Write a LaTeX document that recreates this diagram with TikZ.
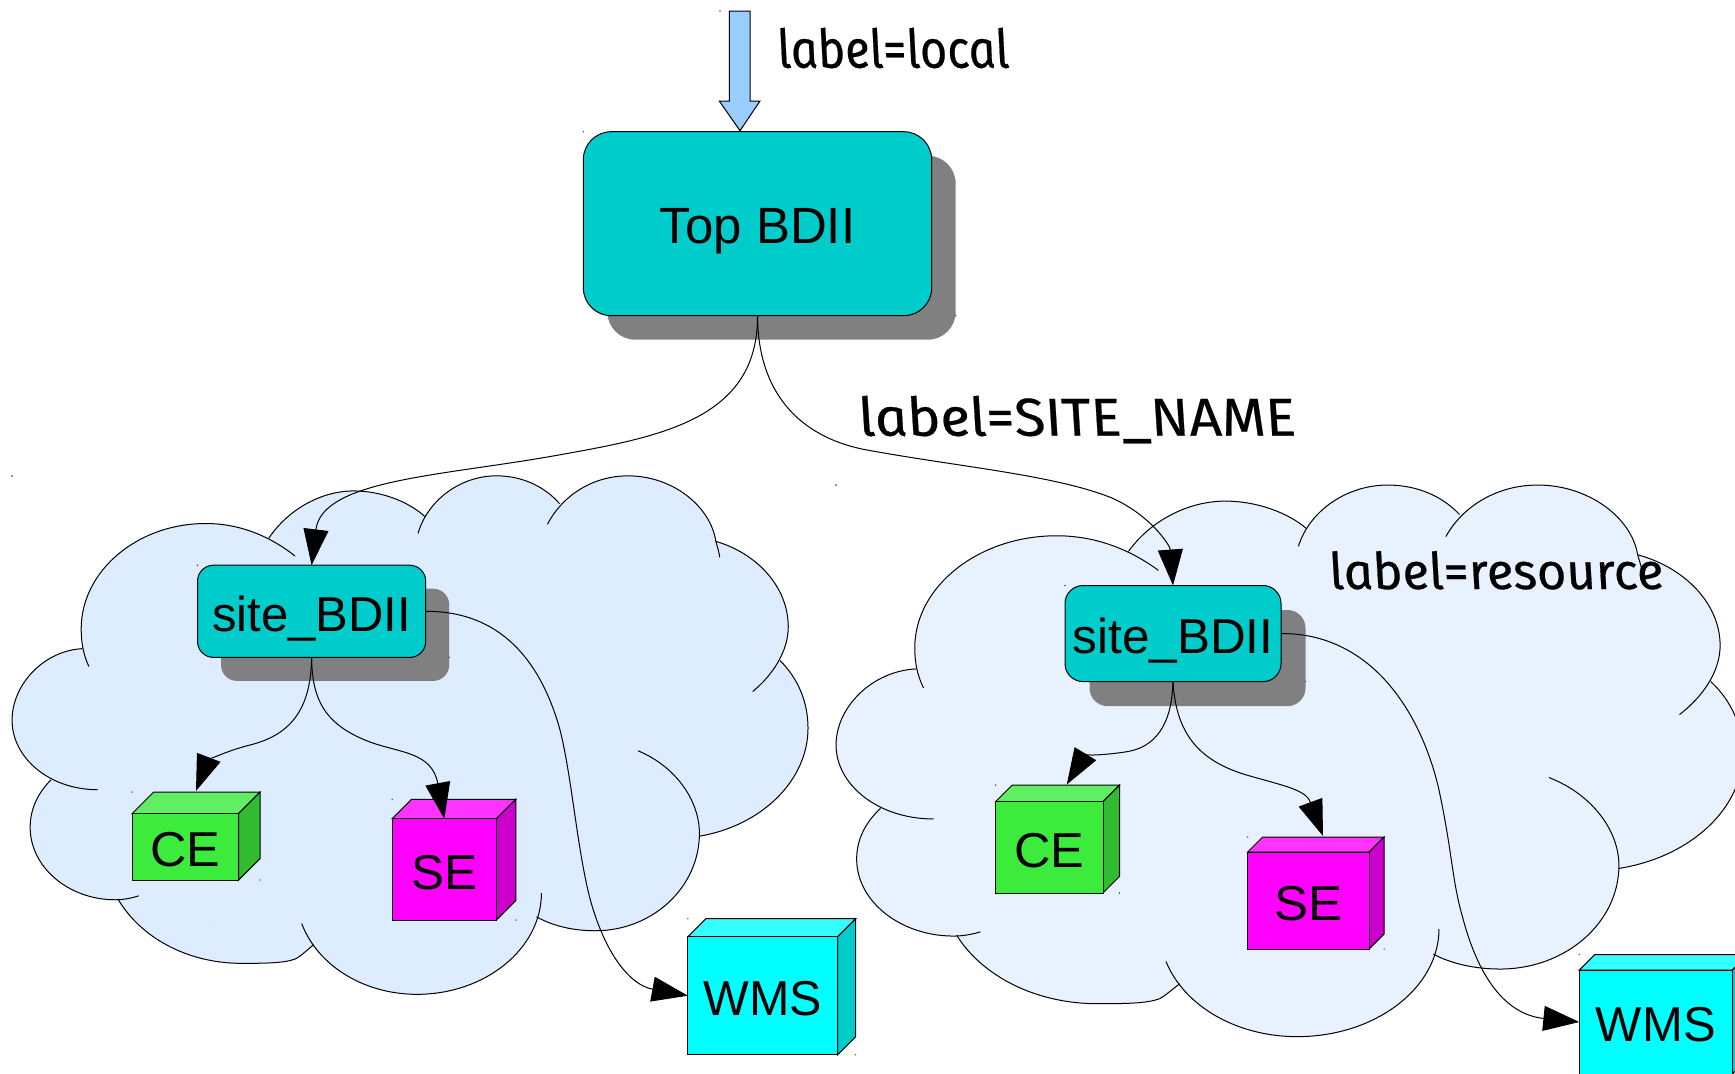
\documentclass[tikz,border=0pt]{standalone}
\usepackage{fontspec}
\usepackage{graphicx}
\setmainfont{Liberation Sans}
\newfontface\handfont{Fira Sans Italic}[FakeSlant=-0.2,FakeBold=0.4]
\usetikzlibrary{arrows.meta,calc}
\definecolor{teal1}{HTML}{00CCCC}
\definecolor{shadow1}{HTML}{808080}
\definecolor{cloudL}{HTML}{DEECFF}
\definecolor{cloudR}{HTML}{E8F2FE}
\definecolor{blockblue}{HTML}{99CCFF}
\definecolor{ceF}{HTML}{3DEB3D}\definecolor{ceT}{HTML}{62EE62}\definecolor{ceS}{HTML}{30BB30}
\definecolor{seF}{HTML}{FF00FF}\definecolor{seT}{HTML}{FF33FF}\definecolor{seS}{HTML}{CC00CC}
\definecolor{wmF}{HTML}{00FFFF}\definecolor{wmT}{HTML}{33FFFF}\definecolor{wmS}{HTML}{00CCCC}
\tikzset{
  thinline/.style={line width=0.5pt,draw=black},
  conn/.style={line width=0.5pt,draw=black,-{Triangle[length=18pt,width=12.5pt]}},
  boxface/.style={draw=black,line width=0.5pt,inner sep=0pt,outer sep=0pt,
     font=\fontsize{24.5}{28}\selectfont,text height=19.7pt,text depth=0pt,align=center},
  handlabel/.style={inner sep=0pt,outer sep=0pt,anchor=base west,font=\handfont\fontsize{24}{28}\selectfont},
  speck/.style={fill=black!70},
}
% fill or stroke every arc of the cloud with the command given
\newcommand\cloudall[1]{%
 #1{(150,500) .. controls (80,505) and (22,590) .. (22,680) .. controls (22,775) and (90,855) .. (178,855)}%
 #1{(162,545) .. controls (152,515) and (148,485) .. (148,450) .. controls (148,305) and (250,185) .. (375,185) .. controls (440,185) and (495,220) .. (538,267)}%
 #1{(490,222) .. controls (525,150) and (585,103) .. (645,103) .. controls (695,103) and (745,130) .. (775,168)}%
 #1{(762,210) .. controls (780,125) and (840,65) .. (905,65) .. controls (955,65) and (995,95) .. (1020,135)}%
 #1{(998,187) .. controls (1025,115) and (1080,65) .. (1145,65) .. controls (1225,65) and (1295,140) .. (1305,230) .. controls (1308,245) and (1311,258) .. (1312,270)}%
 #1{(1305,230) .. controls (1380,260) and (1437,345) .. (1437,445) .. controls (1437,505) and (1410,565) .. (1372,608)}%
 #1{(1422,530) .. controls (1455,575) and (1473,635) .. (1473,700) .. controls (1473,830) and (1390,945) .. (1275,972)}%
 #1{(1163,757) .. controls (1230,795) and (1275,880) .. (1275,965) .. controls (1275,1100) and (1190,1210) .. (1085,1210) .. controls (1045,1210) and (1008,1198) .. (978,1175)}%
 #1{(987,1115) .. controls (987,1255) and (885,1370) .. (760,1370) .. controls (665,1370) and (580,1300) .. (550,1192)}%
 #1{(572,1245) .. controls (560,1258) and (550,1272) .. (540,1280) .. controls (520,1292) and (480,1292) .. (440,1292) .. controls (340,1292) and (255,1225) .. (215,1130)}%
 #1{(253,1122) .. controls (240,1128) and (225,1132) .. (210,1132) .. controls (125,1132) and (55,1050) .. (55,950) .. controls (55,905) and (68,865) .. (93,830)}%
}
\newcommand\arcfill[1]{\fill #1 -- cycle;}
\newcommand\arcstroke[1]{\draw[thinline] #1;}
\newcommand\wholecloud[1]{%
 \begin{scope}[fill=#1]
  \fill (93,830)--(150,500)--(300,230)--(490,222)--(775,168)--(1020,135)--(1305,230)--(1422,530)--(1275,972)--(978,1175)--(760,1340)--(572,1245)--(215,1130)--cycle;
  \cloudall\arcfill
 \end{scope}
 \cloudall\arcstroke
}
% name, x0, y0, x1, y1, depth, colour prefix, text
\newcommand\cube[8]{%
 \filldraw[thinline,fill=#7T] (#2,#3)--({#2+#6},{#3-#6})--({#4+#6},{#3-#6})--(#4,#3)--cycle;
 \filldraw[thinline,fill=#7S] (#4,#3)--({#4+#6},{#3-#6})--({#4+#6},{#5-#6})--(#4,#5)--cycle;
 \node[boxface,fill=#7F,minimum width={(#4-#2)*0.5pt},minimum height={(#5-#3)*0.5pt}] (#1) at ({(#2+#4)/2},{(#3+#5)/2}) {#8};
 \fill[speck] (#2,{#3-#6}) circle (0.4pt);
 \fill[speck] ({#4+#6},#5) circle (0.4pt);
}
% name, x0, y0, x1, y1, shadow offset, radius (pt), text
\newcommand\roundbox[8]{%
 \fill[shadow1,rounded corners=#7pt] ({#2+#6},{#3+#6}) rectangle ({#4+#6},{#5+#6});
 \node[boxface,fill=teal1,rounded corners=#7pt,minimum width={(#4-#2)*0.5pt},minimum height={(#5-#3)*0.5pt}] (#1) at ({(#2+#4)/2},{(#3+#5)/2}) {#8};
 \fill[speck] (#2,#3) circle (0.4pt);
 \fill[speck] ({#4+#6},#5) circle (0.4pt);
}
\begin{document}
\begin{tikzpicture}[x=0.5pt,y=-0.5pt]
\useasboundingbox (0,0) rectangle (1735,1073);
\clip (0,0) rectangle (1735,1073);
\fill[white] (0,0) rectangle (1735,1073);

% clouds
\begin{scope}[shift={(0,450)},x=0.27427pt,y=-0.19865pt]
 \wholecloud{cloudL}
\end{scope}
\begin{scope}[shift={(822.3,457.55)},x=0.3124pt,y=-0.21135pt]
 \wholecloud{cloudR}
\end{scope}
\fill[speck] (12,476) circle (0.5pt);
\fill[speck] (836,485) circle (0.5pt);

% block arrow
\filldraw[thinline,fill=blockblue] (729.3,11)--(750,11)--(750,101)--(760,101)--(740,130.7)--(719.3,101)--(729.3,101)--cycle;
\fill[speck] (720,11) circle (0.4pt);

% boxes
\roundbox{top}{583.3}{131.7}{931.7}{315.7}{24}{14}{\fontsize{25.5}{30}\selectfont Top BDII}
\roundbox{siteL}{197.5}{565.2}{425.7}{657.4}{23.5}{8}{\scalebox{1.0}[1]{site\_BDII}}
\roundbox{siteR}{1065}{585.5}{1281}{681.6}{24.5}{9}{\scalebox{1.01}[1]{site\_BDII}}

\cube{ceL}{132.2}{813.5}{238.6}{880}{21.5}{ce}{\scalebox{1.03}[1]{CE}}
\cube{seL}{392.2}{818.7}{496.4}{920}{19.4}{se}{\scalebox{1.01}[1]{SE}}
\cube{wmsL}{687.9}{936.7}{837.6}{1054.7}{18}{wm}{\scalebox{0.99}[1]{WMS}}
\cube{ceR}{995.6}{801.6}{1103}{893}{16.5}{ce}{\scalebox{1.03}[1]{CE}}
\cube{seR}{1247.7}{852}{1369.1}{949}{15}{se}{\scalebox{1.04}[1]{SE}}
\cube{wmsR}{1579.3}{970}{1732.3}{1074}{15.5}{wm}{\scalebox{1.0}[1]{WMS}}

% connector ends on the top faces of the cubes
\coordinate (ceLin) at (196,791);
\coordinate (seLin) at (444.3,818.7);
\coordinate (ceRin) at (1066.8,784.5);
\coordinate (seRin) at (1323,836);

% connectors
\draw[conn] (top.south) .. controls (758,420) and (660,437) .. (553,456)
   .. controls (440,476) and (322,480) .. (siteL.north);
\draw[conn] (top.south) .. controls (758,400) and (807,439) .. (867,450)
   .. controls (960,467) and (1055,475) .. (1112,498)
   .. controls (1150,515) and (1170,545) .. (siteR.north);
\draw[conn] (siteL.south) .. controls (311,710) and (290,735) .. (250,745)
   .. controls (222,752) and (207,762) .. (ceLin);
\draw[conn] (siteL.south) .. controls (312,700) and (325,725) .. (370,742)
   .. controls (400,753) and (432,752) .. (seLin);
\draw[conn] (siteL.east) .. controls (500,611) and (540,660) .. (559.5,728)
   .. controls (572,775) and (578,860) .. (592.4,907)
   .. controls (607,955) and (630,985) .. (wmsL.west);
\draw[conn] (siteR.south) .. controls (1172,725) and (1155,748) .. (1125,752)
   .. controls (1105,755) and (1084,756) .. (ceRin);
\draw[conn] (siteR.south) .. controls (1176,735) and (1200,762) .. (1250,776)
   .. controls (1285,786) and (1306,790) .. (seRin);
\draw[conn] (siteR.east) .. controls (1370,633) and (1420,710) .. (1438.5,787.7)
   .. controls (1452,850) and (1452,880) .. (1462,915)
   .. controls (1480,985) and (1510,1015) .. (wmsR.west);

% labels
\node[handlabel] (labLocal) at (780,67.7) {\resizebox{115.8pt}{20pt}{label=local}};
\node[handlabel] (labSite) at (861.7,435.7) {\resizebox{218.6pt}{20pt}{label=SITE\_NAME}};
\node[handlabel] (labRes) at (1332,589) {\resizebox{167pt}{19pt}{label=resource}};
\end{tikzpicture}
\end{document}
